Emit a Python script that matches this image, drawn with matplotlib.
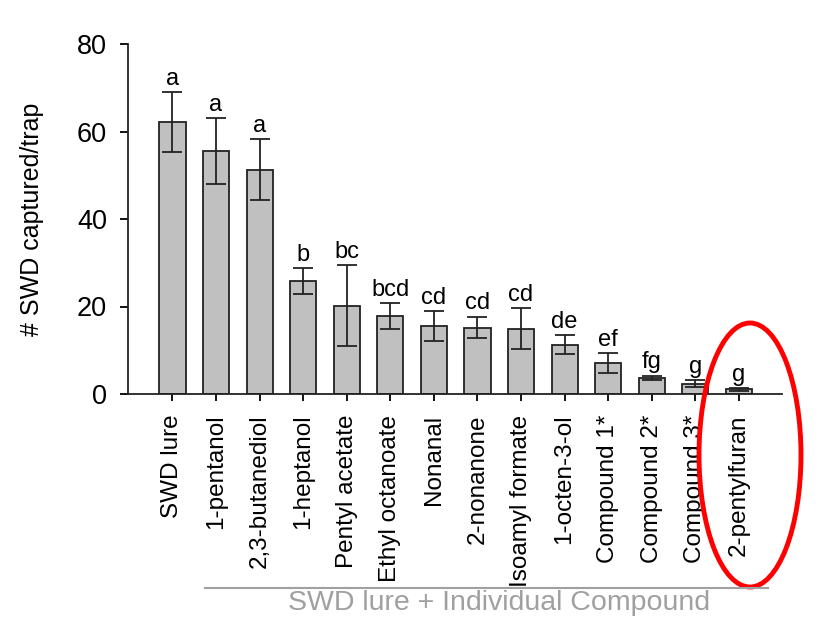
import numpy as np
import matplotlib.pyplot as plt
from matplotlib.patches import Ellipse
from matplotlib.lines import Line2D

plt.rcParams['font.family'] = ['Liberation Sans', 'DejaVu Sans']

# Trap captures per treatment (mean +/- SE) with mean-separation letters
treatments = ['SWD lure', '1-pentanol', '2,3-butanediol', '1-heptanol', 'Pentyl acetate',
              'Ethyl octanoate', 'Nonanal', '2-nonanone', 'Isoamyl formate', '1-octen-3-ol',
              'Compound 1*', 'Compound 2*', 'Compound 3*', '2-pentylfuran']
means = [62.2, 55.6, 51.3, 25.8, 20.2, 17.8, 15.6, 15.2, 14.9, 11.3, 7.1, 3.7, 2.4, 1.1]
sems = [6.8, 7.5, 7.0, 3.0, 9.2, 3.0, 3.4, 2.5, 4.7, 2.1, 2.2, 0.5, 0.7, 0.3]
letters = ['a', 'a', 'a', 'b', 'bc', 'bcd', 'cd', 'cd', 'cd', 'de', 'ef', 'fg', 'g', 'g']

fig = plt.figure(figsize=(8.27, 6.17), dpi=100)
ax = fig.add_axes([128/827, 1 - 394/617, (782 - 128)/827, 350/617])

x = np.arange(len(treatments))
ax.bar(x, means, width=0.6, color='#c0c0c0', edgecolor='#222222', linewidth=1.3, zorder=2)
ax.errorbar(x, means, yerr=sems, fmt='none', ecolor='#222222', elinewidth=1.3,
            capsize=7, capthick=1.3, zorder=3)

for xi, m, s, lab in zip(x, means, sems, letters):
    ax.text(xi, m + s + 0.5, lab, ha='center', va='bottom', fontsize=17)

ax.set_xlim(-1.02, 13.99)
ax.set_ylim(0, 80)
ax.set_yticks([0, 20, 40, 60, 80])
ax.set_xticks(x)
ax.set_xticklabels(treatments, rotation=90, fontsize=17.5)
ax.tick_params(axis='y', labelsize=19.5, length=6, width=1.3, pad=9)
ax.tick_params(axis='x', length=5, width=1.3, pad=10)
ax.set_ylabel('# SWD captured/trap', fontsize=18, labelpad=24)

for side in ['top', 'right']:
    ax.spines[side].set_visible(False)
for side in ['left', 'bottom']:
    ax.spines[side].set_linewidth(1.3)
    ax.spines[side].set_color('#222222')

# Bracket for the lure + compound treatments
fig.add_artist(Line2D([205/827, 768/827], [1 - 588/617, 1 - 588/617],
                      color='#a0a0a0', lw=1.5))
fig.text(499/827, 1 - 603/617, 'SWD lure + Individual Compound', ha='center', va='center',
         fontsize=20.5, color='#a0a0a0')

# Highlight the last treatment
fig.add_artist(Ellipse((750/827, 1 - 455/617), 102/827, 264/617,
                       transform=fig.transFigure, fill=False, edgecolor='red', lw=3.5))

fig.savefig('out.png', dpi=100)
